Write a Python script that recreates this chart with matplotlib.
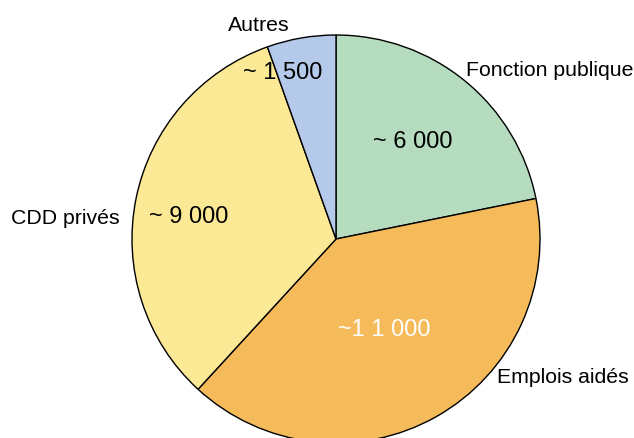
import numpy as np
import matplotlib.pyplot as plt

plt.rcParams['font.family'] = ['Liberation Sans', 'DejaVu Sans']

categories = ['Fonction publique', 'Emplois aidés', 'CDD privés', 'Autres']
values = [6000, 11000, 9000, 1500]
value_labels = ['~ 6 000', '~1 1 000', '~ 9 000', '~ 1 500']
colors = ['#b5dcbf', '#f5bb5a', '#fbe995', '#b5caeb']
value_colors = ['black', 'white', 'black', 'black']

# style: radial position of inner labels (fraction of radius) and small angle shifts
inner_r = [0.61, 0.50, 0.73, 0.86]
inner_shift = [1.0, -1.5, 2.5, 8.0]
# outer label offsets from pie centre (pixels) and alignment
outer_off = [(130, 170), (161, -138), (-216, 22), (-77, 215)]
outer_ha = ['left', 'left', 'right', 'center']

W, H = 634, 439
cx, cy, R = 336, H - 240, 204

fig = plt.figure(figsize=(W / 100, H / 100), dpi=100)
ax = fig.add_axes([0, 0, 1, 1])
wedges, _ = ax.pie(values, colors=colors, startangle=90, counterclock=False,
                   center=(cx, cy), radius=R,
                   wedgeprops=dict(edgecolor='black', linewidth=1.0))
ax.set_xlim(0, W)
ax.set_ylim(0, H)
ax.axis('off')

for i, w in enumerate(wedges):
    mid = np.deg2rad((w.theta1 + w.theta2) / 2 + inner_shift[i])
    x = cx + inner_r[i] * R * np.cos(mid)
    y = cy + inner_r[i] * R * np.sin(mid)
    ax.text(x, y, value_labels[i], ha='center', va='center', fontsize=17,
            color=value_colors[i])
    dx, dy = outer_off[i]
    ax.text(cx + dx, cy + dy, categories[i], ha=outer_ha[i], va='center',
            fontsize=15.3, color='black')

fig.savefig('out.png', dpi=100)
